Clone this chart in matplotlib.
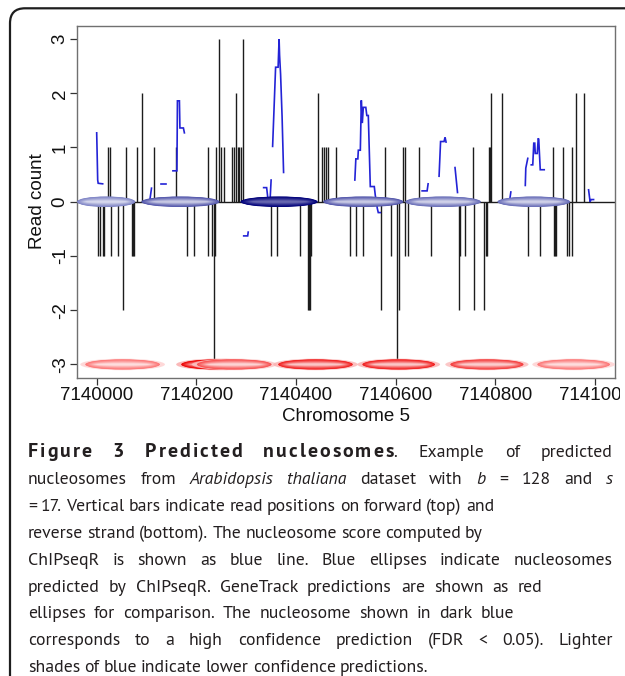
import matplotlib
matplotlib.use("Agg")
import matplotlib.pyplot as plt
import numpy as np
from matplotlib.patches import Ellipse, FancyBboxPatch
from matplotlib.colors import to_rgb
from matplotlib.transforms import Bbox
from matplotlib import font_manager as fm

# ---------------- data ----------------
fwd_pos = [7140022, 7140027, 7140059, 7140081, 7140090, 7140115, 7140160, 7140223,
           7140240, 7140245, 7140249, 7140255, 7140271, 7140275, 7140279, 7140283,
           7140286, 7140289, 7140294, 7140445, 7140453, 7140457, 7140460, 7140464,
           7140480, 7140579, 7140615, 7140619, 7140647, 7140756, 7140788, 7140790,
           7140792, 7140814, 7140915, 7140936, 7140954, 7140962, 7140977]
fwd_cnt = [1, 1, 1, 1, 2, 1, 1, 1,
           1, 3, 1, 1, 1, 1, 2, 1,
           1, 1, 3, 2, 1, 1, 1, 1,
           1, 1, 1, 1, 1, 1, 1, 1,
           2, 2, 1, 1, 1, 2, 2]

rev_pos = [7140002, 7140007, 7140012, 7140015, 7140029, 7140042, 7140052, 7140070,
           7140072, 7140074, 7140181, 7140196, 7140224, 7140232, 7140235, 7140238,
           7140349, 7140361, 7140407, 7140424, 7140427, 7140429, 7140431, 7140509,
           7140521, 7140534, 7140571, 7140591, 7140603, 7140607, 7140618, 7140625,
           7140671, 7140726, 7140729, 7140739, 7140758, 7140778, 7140781, 7140783,
           7140865, 7140889, 7140917, 7140919, 7140922, 7140943, 7140948, 7140954]
rev_cnt = [1, 1, 1, 1, 1, 1, 2, 1,
           1, 1, 1, 1, 1, 1, 3, 1,
           1, 1, 1, 2, 2, 2, 1, 1,
           1, 1, 2, 1, 3, 2, 1, 1,
           1, 2, 1, 1, 2, 2, 1, 1,
           1, 1, 1, 1, 1, 1, 1, 1]

# nucleosome score (ChIPseqR), drawn as separate pieces (gaps = missing values)
score_x = [
    [7140000, 7140001, 7140002, 7140003, 7140012],
    [7140107, 7140110],
    [7140130, 7140140],
    [7140153, 7140161, 7140162, 7140166, 7140167, 7140174, 7140176],
    [7140295, 7140303, 7140304],
    [7140335, 7140341, 7140343],
    [7140348, 7140350],
    [7140353, 7140359, 7140364, 7140366, 7140367, 7140369, 7140372, 7140375],
    [7140518, 7140520, 7140524, 7140525, 7140529, 7140531, 7140533, 7140535,
     7140540, 7140542, 7140545, 7140549, 7140557, 7140559, 7140563, 7140565, 7140569],
    [7140653, 7140663, 7140665],
    [7140687, 7140690, 7140697, 7140699, 7140701],
    [7140719, 7140724],
    [7140829, 7140831],
    [7140860, 7140861, 7140865],
    [7140872, 7140875, 7140877, 7140879, 7140880, 7140884, 7140886, 7140887, 7140890, 7140898],
    [7140987, 7140990, 7140992, 7140997],
]
score_y = [
    [1.27, 0.85, 0.40, 0.34, 0.33],
    [0.05, 0.25],
    [0.33, 0.33],
    [0.57, 0.57, 1.86, 1.86, 1.36, 1.36, 1.27],
    [-0.63, -0.63, -0.56],
    [0.26, 0.26, 0.10],
    [0.05, 0.40],
    [1.02, 2.48, 2.48, 3.00, 2.70, 2.35, 1.57, 0.54],
    [0.40, 0.79, 0.79, 0.95, 0.95, 1.87, 1.45, 1.74,
     1.74, 1.59, 1.59, 0.28, 0.28, 0.12, -0.12, -0.20, -0.20],
    [0.20, 0.20, 0.33],
    [0.47, 1.11, 1.11, 1.19, 1.10],
    [0.63, 0.17],
    [0.05, 0.18],
    [0.30, 0.62, 0.80],
    [0.68, 0.68, 1.08, 1.08, 0.89, 0.89, 1.17, 1.15, 0.59, 0.59],
    [0.22, 0.00, 0.04, 0.04],
]

# ChIPseqR nucleosome predictions (blue ellipses): centre, width (bp), confidence 0..1
chipseqr_center = [7140019, 7140168, 7140366, 7140535, 7140695, 7140877]
chipseqr_width = [117, 157, 155, 161, 152, 146]
chipseqr_conf = [0.15, 0.45, 1.00, 0.45, 0.30, 0.30]

# GeneTrack predictions (red ellipses)
genetrack_center = [7140052, 7140243, 7140276, 7140439, 7140606, 7140783, 7140957]
genetrack_width = [150, 147, 150, 150, 146, 147, 146]
genetrack_conf = [0.20, 1.00, 0.45, 0.80, 0.80, 0.60, 0.20]

x_ticks = [7140000, 7140200, 7140400, 7140600, 7140800, 7141000]
x_tick_labels = ["7140000", "7140200", "7140400", "7140600", "7140800", "7141000"]
y_ticks = [-3, -2, -1, 0, 1, 2, 3]
y_tick_labels = ["-3", "-2", "-1", "0", "1", "2", "3"]

x_label = "Chromosome 5"
y_label = "Read count"

caption_lines = [
    [("Figure 3 Predicted nucleosomes", "b"), (". Example of predicted", "r")],
    [("nucleosomes from ", "r"), ("Arabidopsis thaliana", "i"), (" dataset with ", "r"),
     ("b", "i"), (" = 128 and ", "r"), ("s", "i")],
    [("= 17. Vertical bars indicate read positions on forward (top) and", "r")],
    [("reverse strand (bottom). The nucleosome score computed by", "r")],
    [("ChIPseqR is shown as blue line. Blue ellipses indicate nucleosomes", "r")],
    [("predicted by ChIPseqR. GeneTrack predictions are shown as red", "r")],
    [("ellipses for comparison. The nucleosome shown in dark blue", "r")],
    [("corresponds to a high confidence prediction (FDR < 0.05). Lighter", "r")],
    [("shades of blue indicate lower confidence predictions.", "r")],
]
# approximate right end of each caption line in the source layout (pixels)
caption_line_end = [613, 613, 431, 436, 613, 550, 514, 613, 407]

# ---------------- figure ----------------
W, H = 625, 676
fig = plt.figure(figsize=(W / 100, H / 100), dpi=100)
fig.patch.set_facecolor("white")

ax_l, ax_r, ax_t, ax_b = 77, 615, 26, 378
ax = fig.add_axes([ax_l / W, 1 - ax_b / H, (ax_r - ax_l) / W, (ax_b - ax_t) / H])
ax.set_xlim(7139960.5, 7141040)
ax.set_ylim(-3.25, 3.24)

bar_col = "#1c1c1c"
ax.vlines(fwd_pos, 0, fwd_cnt, color=bar_col, lw=1.0, zorder=1)
ax.vlines(rev_pos, 0, -np.asarray(rev_cnt), color=bar_col, lw=1.0, zorder=1)
ax.axhline(0, color=bar_col, lw=1.0, zorder=1)

for xs, ys in zip(score_x, score_y):
    ax.plot(xs, ys, color="#2323d6", lw=1.2, zorder=2, solid_joinstyle="miter")


def mix(c1, c2, t):
    a = np.array(to_rgb(c1)); b = np.array(to_rgb(c2))
    return tuple(a * (1 - t) + b * t)


def grad_ellipse(xc, yc, w, h, edge, centre, n=18, z=3):
    for i in range(n):
        t = i / (n - 1)
        fw = 1 - 0.30 * t
        fh = 1 - 0.85 * t
        col = mix(edge, centre, t ** 1.2)
        ax.add_patch(Ellipse((xc, yc), w * fw, h * fh, facecolor=col,
                             edgecolor="none", zorder=z, lw=0))


blue_h = 10.5 / 54.2
for c, w, q in zip(chipseqr_center, chipseqr_width, chipseqr_conf):
    edge = mix("#959cd3", "#00007a", q)
    centre = mix(edge, "white", 0.68 if q < 0.9 else 0.40)
    grad_ellipse(c, 0, w, blue_h, edge, centre, z=3)

red_h = 11 / 54.2
for c, w, q in zip(genetrack_center, genetrack_width, genetrack_conf):
    edge = mix("#ff9494", "#ee0000", q)
    halo = mix(edge, "white", 0.65)
    ax.add_patch(Ellipse((c, -3), w + 20, red_h * 1.05, facecolor=halo,
                         edgecolor="none", zorder=3, alpha=0.8))
    centre = mix(edge, "white", 0.75)
    grad_ellipse(c, -3, w, red_h * 0.92, edge, centre, z=3)

for s in ax.spines.values():
    s.set_color("#707070")
    s.set_linewidth(1.0)

ax.set_xticks(x_ticks, labels=x_tick_labels)
ax.set_yticks(y_ticks, labels=y_tick_labels)
for lab in ax.get_yticklabels():
    lab.set_rotation(90)
    lab.set_va("center")
ax.tick_params(direction="out", length=5, width=0.9, color="#333333",
               labelsize=13.5, labelcolor="#111111")
ax.tick_params(axis="x", pad=1.5)
ax.tick_params(axis="y", pad=1.0)
for lab in ax.get_xticklabels() + ax.get_yticklabels():
    lab.set_family("Liberation Sans")
# the right-most label is cut by the panel edge in the source figure
ax.get_xticklabels()[-1].set_clip_box(Bbox.from_extents(0, 0, 620, H))
ax.get_xticklabels()[-1].set_clip_on(True)

fig.text(37.5 / W, 1 - 201.5 / H, y_label, rotation=90, ha="center", va="center",
         fontsize=13.5, family="Liberation Sans", color="#111111")
fig.text(346 / W, 1 - 416.5 / H, x_label, ha="center", va="center",
         fontsize=13.5, family="Liberation Sans", color="#111111")

# panel frame with rounded corner
frame = FancyBboxPatch((0.10, -1.0), 8.0, 6.76 - 0.083 + 1.0,
                       boxstyle="round,pad=0,rounding_size=0.15",
                       transform=fig.dpi_scale_trans, facecolor="none",
                       edgecolor="#1e1e1e", lw=1.6, zorder=10)
fig.add_artist(frame)

# ---------------- caption ----------------
faces = {}
for f in fm.fontManager.ttflist:
    faces.setdefault(f.name, set()).add((int(f.weight) if str(f.weight).isdigit() else 400,
                                         str(f.style)))


def has_faces(fam):
    fs = faces.get(fam, set())
    return any(w >= 700 for w, s in fs) and any(s == "italic" for w, s in fs)


size_for = {"Myriad Pro": 13.4, "Source Sans 3": 13.4, "Source Sans Pro": 13.4,
            "PT Sans": 12.8, "Lato": 12.0}
cap_font = next((f for f in ["Myriad Pro", "Source Sans 3", "Source Sans Pro", "PT Sans"]
                 if has_faces(f)), "Lato")
cap_size = size_for.get(cap_font, 12.0)
cap_col = "#231f20"
styles = {"r": dict(weight="normal", style="normal", size=cap_size, track=0.0),
          "b": dict(weight="bold", style="normal", size=cap_size * 1.12, track=2.0),
          "i": dict(weight="normal", style="italic", size=cap_size, track=0.0)}

fig.canvas.draw()
renderer = fig.canvas.get_renderer()
_cache = {}


def text_w(txt, st):
    key = (txt, st)
    if key not in _cache:
        s = styles[st]
        t = fig.text(0, 0, txt, fontsize=s["size"], family=cap_font,
                     weight=s["weight"], style=s["style"])
        _cache[key] = t.get_window_extent(renderer).width
        t.remove()
    return _cache[key]


def piece_w(txt, st):
    s = styles[st]
    if s["track"] == 0:
        return text_w(txt, st)
    return sum(text_w(c, st) for c in txt) + s["track"] * (len(txt) - 1)


def draw_piece(x, yb, txt, st):
    s = styles[st]
    kw = dict(fontsize=s["size"], family=cap_font, weight=s["weight"],
              style=s["style"], va="baseline", color=cap_col)
    if s["track"] == 0:
        fig.text(x / W, yb, txt, **kw)
        return
    for c in txt:
        fig.text(x / W, yb, c, **kw)
        x += text_w(c, st) + s["track"]


space_w = text_w("a a", "r") - text_w("aa", "r")
left_px = 28
base0, line_gap = 457, 26.9
for li, (segs, x_end) in enumerate(zip(caption_lines, caption_line_end)):
    words = [[]]
    for txt, st in segs:
        parts = txt.split(" ")
        for k, p in enumerate(parts):
            if k > 0:
                words.append([])
            if p:
                words[-1].append((p, st))
    words = [w for w in words if w]
    widths = [sum(piece_w(p, st) for p, st in w) for w in words]
    gap = (x_end - left_px - sum(widths)) / max(len(words) - 1, 1)
    full = x_end >= 600
    lo, hi = (0.8 * space_w, 10 * space_w) if full else (0.85 * space_w, 1.9 * space_w)
    gap = min(max(gap, lo), hi)
    x = left_px
    yb = 1 - (base0 + li * line_gap) / H
    for w, wd in zip(words, widths):
        xx = x
        for p, st in w:
            draw_piece(xx, yb, p, st)
            xx += piece_w(p, st)
        x += wd + gap

fig.savefig("out.png", dpi=100)
